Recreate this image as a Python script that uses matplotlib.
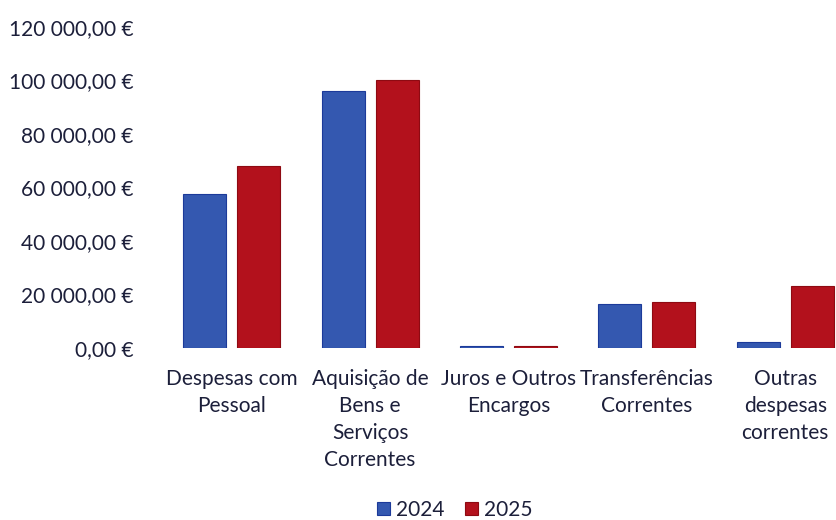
import numpy as np
import matplotlib.pyplot as plt
from matplotlib.ticker import FuncFormatter

categorias = ['Despesas com\nPessoal', 'Aquisição de\nBens e\nServiços\nCorrentes',
              'Juros e Outros\nEncargos', 'Transferências\nCorrentes',
              'Outras\ndespesas\ncorrentes']
v2024 = [57700, 95900, 600, 16500, 2400]
v2025 = [67900, 100300, 800, 17200, 23000]

plt.rcParams['font.family'] = ['Lato', 'DejaVu Sans']
txt = '#1c1f3a'

fig = plt.figure(figsize=(8.36, 5.2), dpi=100)
ax = fig.add_axes([162.5 / 836, 1 - 348 / 520, 692 / 836, 321 / 520])

x = np.arange(len(categorias))
w = 0.31
ax.bar(x - 0.195, v2024, w, color='#3458b0', edgecolor='#1c3a9a', linewidth=0.8, label='2024')
ax.bar(x + 0.195, v2025, w, color='#b3111c', edgecolor='#8e0a12', linewidth=0.8, label='2025')

ax.set_xlim(-0.5, len(categorias) - 0.5)
ax.set_ylim(0, 120000)
ax.set_yticks(np.arange(0, 120001, 20000))

def euro(v, pos):
    return '{:,.2f}'.format(v).replace(',', ' ').replace('.', ',') + ' €'

ax.yaxis.set_major_formatter(FuncFormatter(euro))
ax.set_xticks(x)
ax.set_xticklabels(categorias, fontsize=15, color=txt, linespacing=1.45)
ax.tick_params(axis='y', labelsize=15, labelcolor=txt, length=0, pad=21)
ax.tick_params(axis='x', length=0, pad=15)
for s in ax.spines.values():
    s.set_visible(False)

fig.legend(loc='center', bbox_to_anchor=(455 / 836, 1 - 510 / 520), ncol=2, frameon=False,
           fontsize=15, handlelength=0.6, handleheight=0.6, handletextpad=0.3,
           columnspacing=1.0, labelcolor=txt)

fig.savefig('out.png', dpi=100)
